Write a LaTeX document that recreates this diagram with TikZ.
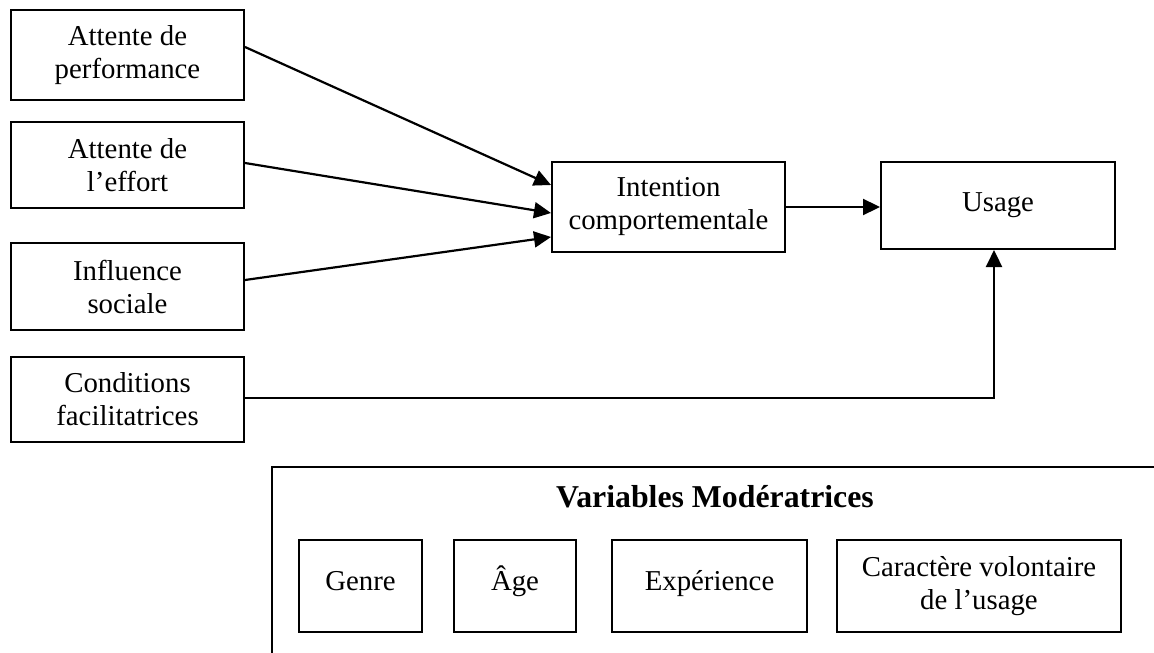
\documentclass[tikz,border=0pt]{standalone}
\usepackage{fontspec}
\setmainfont{Liberation Serif}
\usetikzlibrary{arrows.meta,calc}
\begin{document}
\begin{tikzpicture}[x=0.5pt,y=-0.5pt,
  box/.style={draw,line width=1pt,rectangle,align=center,inner sep=0pt,
    font=\fontsize{14.4}{16.5}\selectfont},
  oneline/.style={text height=9pt,text depth=4.5pt},
  conn/.style={line width=1.1pt,-{Triangle[length=8.5pt,width=8pt]}}]
\useasboundingbox (0,0) rectangle (1154,652);
\node[box,minimum width=116.5pt,minimum height=45pt] (perf) at (127.5,55) {Attente de\\performance};
\node[box,minimum width=116.5pt,minimum height=43pt] (eff) at (127.5,165) {Attente de\\l’effort};
\node[box,minimum width=116.5pt,minimum height=43.5pt] (soc) at (127.5,286.5) {Influence\\sociale};
\node[box,minimum width=116.5pt,minimum height=42.5pt] (cond) at (127.5,399.5) {Conditions\\facilitatrices};
\node[box,minimum width=116.5pt,minimum height=45pt] (int) at (668.5,207) {Intention\\comportementale};
\node[box,minimum width=117pt,minimum height=43.5pt,text height=10pt,text depth=3.5pt] (use) at (998,205.5) {Usage};
\coordinate (corner) at (994,398);
\draw[conn] ($(perf.east)+(0,-8)$) -- ($(int.west)+(0,-22)$);
\draw[conn] ($(eff.east)+(0,-2)$) -- ($(int.west)+(0,6)$);
\draw[conn] ($(soc.east)+(0,-6.5)$) -- ($(int.west)+(0,30)$);
\draw[conn] (int.east) -- (use.west |- int.east);
\draw[conn] (cond.east |- corner) -- (corner) -- (corner |- use.south);
\begin{scope}
\clip (0,0) rectangle (1154,652);
\draw[line width=1pt] (272,467) rectangle (1200,720);
\end{scope}
\node[font=\fontsize{15.9}{18}\selectfont\bfseries] (title) at (715,497) {Variables Modératrices};
\node[box,oneline,minimum width=61.5pt,minimum height=46pt] (genre) at (360.5,586) {Genre};
\node[box,oneline,minimum width=61pt,minimum height=46pt] (age) at (515,586) {Âge};
\node[box,oneline,minimum width=97.5pt,minimum height=46pt] (exp) at (709.5,586) {Expérience};
\node[box,minimum width=142pt,minimum height=46pt] (car) at (979,586) {Caractère volontaire\\de l’usage};
\end{tikzpicture}
\end{document}
